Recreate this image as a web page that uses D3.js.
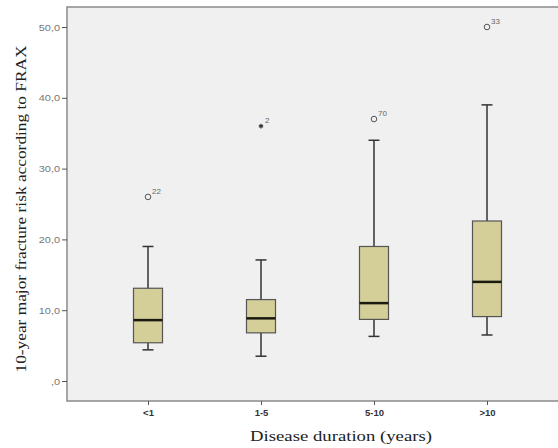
<!DOCTYPE html>
<html>
<head>
<meta charset="utf-8">
<script src="https://cdn.jsdelivr.net/npm/d3@7/dist/d3.min.js"></script>
<style>
  body { margin: 0; background: #fff; }
  .tick text { font-family: Arial, "Liberation Sans", sans-serif; }
</style>
</head>
<body>
<svg id="chart" width="558" height="448"></svg>
<script>
var categories = ["<1", "1-5", "5-10", ">10"];
var whiskerLow = [4.4, 3.5, 6.3, 6.5];
var q1 = [5.4, 6.8, 8.7, 9.1];
var medians = [8.6, 8.85, 11.0, 14.0];
var q3 = [13.1, 11.5, 19.0, 22.6];
var whiskerHigh = [19.0, 17.1, 34.0, 39.0];
var outlierValues = [26.0, 36.0, 37.0, 50.0];
var outlierLabels = ["22", "2", "70", "33"];
var outlierKinds = ["circle", "star", "circle", "circle"];
var yTicks = [0, 10, 20, 30, 40, 50];

var data = categories.map(function(c, i) {
    return {cat: c, lo: whiskerLow[i], q1: q1[i], med: medians[i], q3: q3[i], hi: whiskerHigh[i],
            out: outlierValues[i], label: outlierLabels[i], kind: outlierKinds[i]};
});

var svg = d3.select("#chart"),
    frame = {left: 67, top: 7, right: 560, bottom: 401};

svg.append("rect")
    .attr("x", frame.left).attr("y", frame.top)
    .attr("width", frame.right - frame.left).attr("height", frame.bottom - frame.top)
    .attr("fill", "#f0f0f0")
    .attr("stroke", "#8a8a8a")
    .attr("stroke-width", 1.5);

var x = d3.scalePoint()
    .domain(categories)
    .range([148, 487]);

var y = d3.scaleLinear()
    .domain([0, 50])
    .range([381, 27]);

var yAxis = d3.axisLeft(y)
    .tickValues(yTicks)
    .tickSize(5)
    .tickFormat(function(d) { return d === 0 ? ",0" : d + ",0"; });

svg.append("g")
    .attr("transform", "translate(" + frame.left + ",0)")
    .call(yAxis)
    .call(function(g) { g.select(".domain").remove(); })
    .call(function(g) {
        g.selectAll(".tick line").attr("stroke", "#555");
        // labels slightly stretched sideways, as in the source
        g.selectAll(".tick text").attr("font-size", 9.5).attr("fill", "#777")
            .attr("transform", "scale(1.15,1)")
            .attr("x", -7 / 1.15);
    });

var xAxis = d3.axisBottom(x).tickSize(4);

svg.append("g")
    .attr("transform", "translate(0," + frame.bottom + ")")
    .call(xAxis)
    .call(function(g) { g.select(".domain").remove(); })
    .call(function(g) {
        g.selectAll(".tick line").attr("stroke", "#555");
        g.selectAll(".tick text").attr("font-size", 9.5).attr("fill", "#333")
            .attr("font-weight", "bold").attr("y", 8);
    });

var boxW = 29, capW = 11;

var groups = svg.selectAll(".box")
    .data(data)
    .enter().append("g")
    .attr("class", "box");

groups.append("line")
    .attr("x1", function(d) { return x(d.cat); })
    .attr("x2", function(d) { return x(d.cat); })
    .attr("y1", function(d) { return y(d.hi); })
    .attr("y2", function(d) { return y(d.lo); })
    .attr("stroke", "#333").attr("stroke-width", 1.5);

groups.selectAll(".cap")
    .data(function(d) { return [{cat: d.cat, v: d.hi}, {cat: d.cat, v: d.lo}]; })
    .enter().append("line")
    .attr("class", "cap")
    .attr("x1", function(d) { return x(d.cat) - capW / 2; })
    .attr("x2", function(d) { return x(d.cat) + capW / 2; })
    .attr("y1", function(d) { return y(d.v); })
    .attr("y2", function(d) { return y(d.v); })
    .attr("stroke", "#333").attr("stroke-width", 1.5);

groups.append("rect")
    .attr("x", function(d) { return x(d.cat) - boxW / 2; })
    .attr("width", boxW)
    .attr("y", function(d) { return y(d.q3); })
    .attr("height", function(d) { return y(d.q1) - y(d.q3); })
    .attr("fill", "#d4cf98")
    .attr("stroke", "#555").attr("stroke-width", 1.2);

groups.append("line")
    .attr("x1", function(d) { return x(d.cat) - boxW / 2; })
    .attr("x2", function(d) { return x(d.cat) + boxW / 2; })
    .attr("y1", function(d) { return y(d.med); })
    .attr("y2", function(d) { return y(d.med); })
    .attr("stroke", "#1a1a10").attr("stroke-width", 2.5);

// outliers
groups.filter(function(d) { return d.kind === "circle"; })
    .append("circle")
    .attr("cx", function(d) { return x(d.cat); })
    .attr("cy", function(d) { return y(d.out); })
    .attr("r", 2.8)
    .attr("fill", "none")
    .attr("stroke", "#555").attr("stroke-width", 1);

groups.filter(function(d) { return d.kind === "star"; })
    .append("path")
    .attr("transform", function(d) { return "translate(" + x(d.cat) + "," + y(d.out) + ")"; })
    .attr("d", d3.symbol().type(d3.symbolAsterisk).size(16))
    .attr("fill", "none")
    .attr("stroke", "#333").attr("stroke-width", 1.2);

groups.append("text")
    .attr("x", function(d) { return x(d.cat) + 4; })
    .attr("y", function(d) { return y(d.out) - 3; })
    .attr("font-family", "Arial, 'Liberation Sans', sans-serif")
    .attr("font-size", 8)
    .attr("fill", "#666")
    .text(function(d) { return d.label; });

svg.append("text")
    .attr("transform", "translate(26," + 209 + ") rotate(-90)")
    .attr("text-anchor", "middle")
    .attr("font-family", "'Liberation Serif', 'Times New Roman', serif")
    .attr("font-size", 15)
    .attr("textLength", 327)
    .attr("lengthAdjust", "spacingAndGlyphs")
    .attr("fill", "#222")
    .text("10-year major fracture risk according to FRAX");

svg.append("text")
    .attr("x", 341)
    .attr("y", 441)
    .attr("text-anchor", "middle")
    .attr("font-family", "'Liberation Serif', 'Times New Roman', serif")
    .attr("font-size", 15)
    .attr("textLength", 182)
    .attr("lengthAdjust", "spacingAndGlyphs")
    .attr("fill", "#222")
    .text("Disease duration (years)");
</script>
</body>
</html>
